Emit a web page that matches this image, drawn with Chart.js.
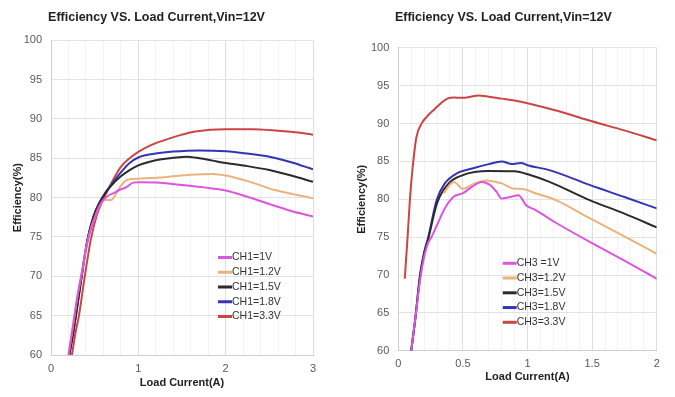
<!DOCTYPE html>
<html>
<head>
<meta charset="utf-8">
<script src="https://cdn.jsdelivr.net/npm/chart.js@4.4.1/dist/chart.umd.min.js"></script>
<style>
  html, body { margin: 0; padding: 0; background: #fff; }
  body { width: 675px; height: 397px; position: relative; overflow: hidden; }
  .box { position: absolute; top: 0; height: 397px; }
  #left { left: 0; width: 337px; }
  #right { left: 350px; width: 325px; }
</style>
</head>
<body>
<div class="box" id="left"><canvas id="ch1"></canvas></div>
<div class="box" id="right"><canvas id="ch3"></canvas></div>
<script>
// left chart: CH1, points are [load current (A), efficiency (%)]
const ch1Labels = ['CH1=1V', 'CH1=1.2V', 'CH1=1.5V', 'CH1=1.8V', 'CH1=3.3V'];
const ch1V10 = [[0.2,60],[0.25,63.6],[0.3,67.3],[0.35,70.3],[0.4,73.4],[0.45,75.8],[0.5,77.4],[0.55,78.8],[0.6,79.7],[0.65,80.2],[0.72,80.6],[0.79,81.0],[0.86,81.3],[0.94,81.9],[1.0,81.95],[1.25,81.9],[1.5,81.6],[1.75,81.3],[2.0,80.9],[2.25,80.1],[2.55,79.0],[2.75,78.3],[3.0,77.6]];
const ch1V12 = [[0.2,60],[0.25,63.6],[0.3,67.3],[0.35,70.3],[0.4,73.4],[0.45,75.8],[0.5,77.4],[0.55,78.8],[0.6,79.6],[0.62,79.7],[0.69,79.7],[0.75,80.6],[0.8,81.5],[0.86,82.2],[0.92,82.35],[1.0,82.4],[1.3,82.6],[1.6,82.9],[1.85,83.0],[2.0,82.8],[2.28,82.0],[2.55,81.0],[2.75,80.5],[3.0,79.9]];
const ch1V15 = [[0.21,60],[0.25,62.5],[0.285,64.9],[0.345,69.5],[0.417,74.6],[0.485,77.5],[0.55,79.2],[0.62,80.5],[0.68,81.4],[0.8,82.7],[0.9,83.5],[1.0,84.1],[1.2,84.75],[1.4,85.05],[1.55,85.2],[1.7,85.0],[1.85,84.7],[2.0,84.4],[2.25,84.0],[2.5,83.5],[2.75,82.8],[3.0,82.0]];
const ch1V18 = [[0.21,60],[0.25,62.6],[0.283,64.9],[0.344,69.5],[0.416,74.6],[0.485,77.6],[0.55,79.3],[0.62,80.6],[0.68,81.5],[0.8,83.2],[0.9,84.4],[1.0,85.1],[1.2,85.6],[1.4,85.85],[1.7,86.0],[2.0,85.9],[2.25,85.6],[2.5,85.2],[2.75,84.5],[3.0,83.6]];
const ch1V33 = [[0.24,60],[0.28,62.8],[0.32,65.0],[0.38,69.5],[0.455,74.6],[0.52,77.6],[0.6,79.8],[0.68,81.6],[0.8,83.9],[0.9,85.0],[1.0,85.8],[1.15,86.7],[1.3,87.3],[1.5,88.0],[1.65,88.4],[2.0,88.7],[2.3,88.7],[2.6,88.5],[2.8,88.3],[3.0,88.0]];

// right chart: CH3
const ch3Labels = ['CH3 =1V', 'CH3=1.2V', 'CH3=1.5V', 'CH3=1.8V', 'CH3=3.3V'];
const ch3V10 = [[0.1,60],[0.13,64],[0.17,69.5],[0.2,72.4],[0.23,74.2],[0.258,75.05],[0.297,76.5],[0.36,78.8],[0.426,80.3],[0.5,80.8],[0.57,81.65],[0.645,82.3],[0.71,81.9],[0.76,81.0],[0.8,80.1],[0.865,80.3],[0.93,80.55],[0.99,79.2],[1.06,78.6],[1.21,77.0],[1.5,74.2],[1.75,71.9],[2.0,69.5]];
const ch3V12 = [[0.35,80.8],[0.43,82.3],[0.5,81.4],[0.59,82.1],[0.68,82.5],[0.8,82.1],[0.9,81.4],[0.95,81.4],[1.06,80.8],[1.22,79.9],[1.48,77.5],[1.75,75.1],[2.0,72.8]];
const ch3V15 = [[0.1,60],[0.13,64],[0.17,70],[0.2,72.8],[0.235,75],[0.3,79.5],[0.39,82.1],[0.5,83.2],[0.59,83.6],[0.7,83.75],[0.9,83.7],[1.02,83.2],[1.17,82.3],[1.48,79.9],[1.75,78.1],[2.0,76.3]];
const ch3V18 = [[0.1,60],[0.13,64],[0.168,70],[0.2,73],[0.232,75],[0.297,79.9],[0.36,82.1],[0.45,83.4],[0.58,84.1],[0.7,84.65],[0.8,85.0],[0.88,84.65],[0.95,84.8],[1.0,84.5],[1.17,83.85],[1.48,81.9],[1.75,80.3],[2.0,78.8]];
const ch3V33 = [[0.05,69.5],[0.07,74.5],[0.09,80],[0.11,84],[0.14,88.2],[0.18,90],[0.22,90.9],[0.28,91.9],[0.33,92.7],[0.38,93.3],[0.43,93.45],[0.5,93.4],[0.56,93.55],[0.62,93.7],[0.7,93.55],[0.8,93.3],[0.9,93.05],[1.0,92.7],[1.25,91.6],[1.5,90.3],[1.75,89.1],[2.0,87.8]];

const yTicks = [60, 65, 70, 75, 80, 85, 90, 95, 100];
const lineColors = ['#dd55dd', '#e9b37c', '#2b2b2b', '#3434b4', '#cc4444'];
const FONT = '"Liberation Sans", Arial, sans-serif';

// legend drawn inside the plot
const insideLegend = {
    id: 'insideLegend',
    afterDraw(chart, args, opts) {
        const ctx = chart.ctx;
        ctx.save();
        ctx.font = '10.5px ' + FONT;
        ctx.textBaseline = 'middle';
        chart.data.datasets.forEach((ds, i) => {
            const y = opts.top + i * opts.gap;
            ctx.strokeStyle = ds.borderColor;
            ctx.lineWidth = 3;
            ctx.beginPath();
            ctx.moveTo(opts.left, y);
            ctx.lineTo(opts.left + 14, y);
            ctx.stroke();
            ctx.fillStyle = '#333';
            ctx.fillText(ds.label, opts.left + 14, y);
        });
        ctx.restore();
    }
};

function makeChart(id, labels, series, cfg) {
    const isMajor = v => Math.abs(v / cfg.major - Math.round(v / cfg.major)) < 1e-6;
    new Chart(document.getElementById(id), {
        type: 'line',
        data: {
            datasets: series.map((s, i) => ({
                label: labels[i],
                data: s.map(p => ({ x: p[0], y: p[1] })),
                borderColor: lineColors[i],
                borderWidth: 2,
                pointRadius: 0,
                cubicInterpolationMode: 'monotone',
                fill: false
            }))
        },
        options: {
            responsive: true,
            maintainAspectRatio: false,
            animation: false,
            layout: { padding: { left: 0, right: cfg.right, top: 0, bottom: 0 } },
            plugins: {
                legend: { display: false },
                tooltip: { enabled: false },
                title: {
                    display: true,
                    text: 'Efficiency VS. Load Current,Vin=12V',
                    color: '#222',
                    font: { family: FONT, size: 12.5, weight: 'bold' },
                    padding: { top: 10, bottom: cfg.titleBottom }
                },
                insideLegend: cfg.legend
            },
            scales: {
                x: {
                    type: 'linear',
                    min: 0,
                    max: cfg.xMax,
                    afterFit: s => { s.height = cfg.xHeight; },
                    border: { color: '#cfcfcf' },
                    grid: {
                        drawTicks: false,
                        color: c => isMajor(c.tick.value) ? '#dedede' : '#f3f3f3'
                    },
                    ticks: {
                        stepSize: cfg.minor,
                        autoSkip: false,
                        maxRotation: 0,
                        padding: cfg.xTickPad,
                        color: '#595959',
                        font: { family: FONT, size: 11 },
                        callback: v => isMajor(v) ? String(Math.round(v * 10) / 10) : ''
                    },
                    title: {
                        display: true,
                        text: 'Load Current(A)',
                        color: '#222',
                        font: { family: FONT, size: 11, weight: 'bold' },
                        padding: { top: 0, bottom: cfg.xTitleBottom }
                    }
                },
                y: {
                    min: yTicks[0],
                    max: yTicks[yTicks.length - 1],
                    afterFit: s => { s.width = cfg.yWidth; },
                    afterBuildTicks: s => { s.ticks = yTicks.map(v => ({ value: v })); },
                    border: { color: '#cfcfcf' },
                    grid: { drawTicks: false, color: '#e2e2e2' },
                    ticks: {
                        padding: 9,
                        color: '#595959',
                        font: { family: FONT, size: 11 }
                    },
                    title: {
                        display: true,
                        text: 'Efficiency(%)',
                        color: '#222',
                        font: { family: FONT, size: 11, weight: 'bold' },
                        padding: { top: cfg.yTitleTop, bottom: 0 }
                    }
                }
            }
        },
        plugins: [insideLegend]
    });
}

makeChart('ch1', ch1Labels, [ch1V10, ch1V12, ch1V15, ch1V18, ch1V33], {
    xMax: 3, minor: 0.2, major: 1, right: 24, titleBottom: 15.2,
    xHeight: 42, xTickPad: 7, xTitleBottom: 7.4, yWidth: 51, yTitleTop: 10.9,
    legend: { left: 218, top: 257.5, gap: 14.75 }
});

makeChart('ch3', ch3Labels, [ch3V10, ch3V12, ch3V15, ch3V18, ch3V33], {
    xMax: 2, minor: 0.1, major: 0.5, right: 18.3, titleBottom: 22.9,
    xHeight: 46.3, xTickPad: 6.5, xTitleBottom: 13.4, yWidth: 48.3, yTitleTop: 5.5,
    legend: { left: 152.7, top: 263.3, gap: 14.75 }
});
</script>
</body>
</html>
